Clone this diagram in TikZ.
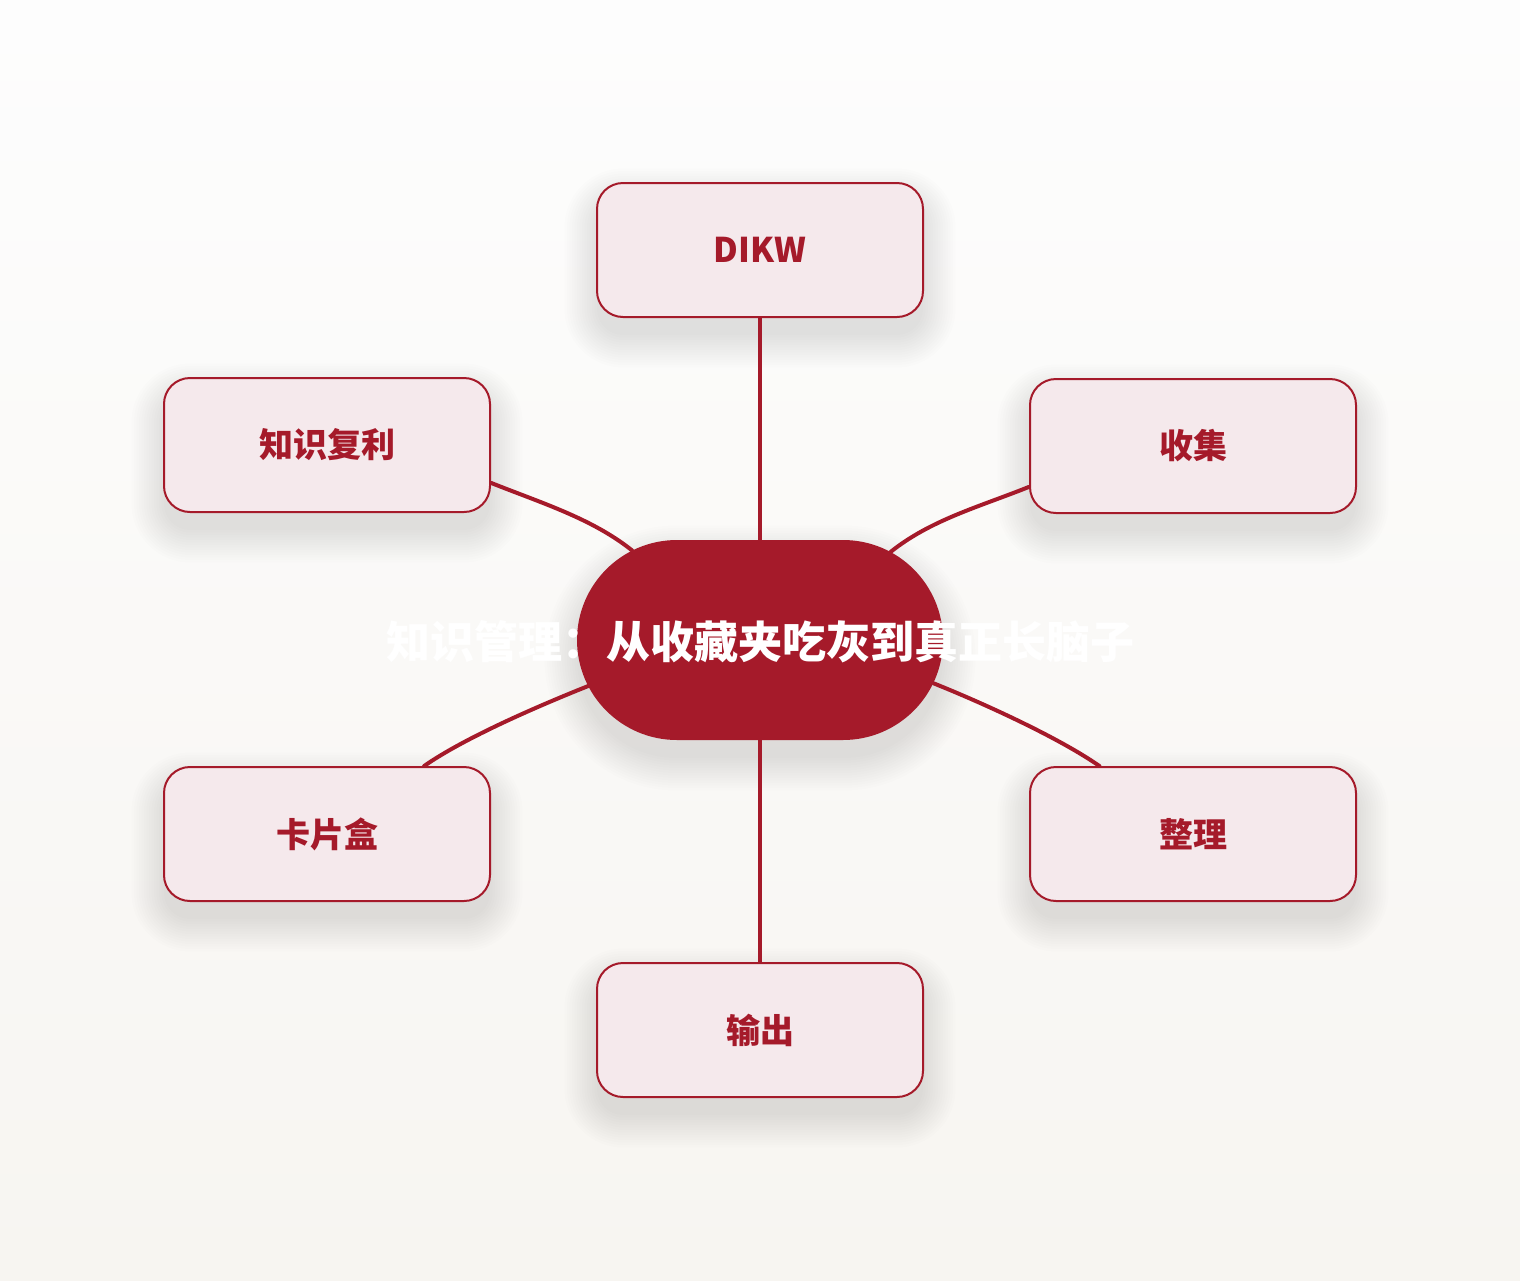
\documentclass[tikz,border=0pt]{standalone}
\usepackage{fontspec}
\usetikzlibrary{shapes.misc}
\newfontfamily\cjk{Noto Sans CJK SC}
\definecolor{kred}{HTML}{A51A2A}
\definecolor{kfill}{HTML}{F5E9EC}
\definecolor{bgtop}{HTML}{FDFDFD}
\definecolor{bgbot}{HTML}{F7F5F1}
\pgfdeclarelayer{bg}
\pgfdeclarelayer{shadow}
\pgfdeclarelayer{edges}
\pgfsetlayers{bg,shadow,edges,main}
\newcommand\softshadow[5]{%
  \foreach \k in {0,...,13}{%
    \pgfmathsetmacro\rr{#5+\k*2.5}%
    \fill[black,opacity=0.0095,rounded corners=\rr pt]
      ({#1-#3/2-\k*2.5},{#2-#4/2-\k*2.5+18}) rectangle ({#1+#3/2+\k*2.5},{#2+#4/2+\k*2.5+18});
  }}
\tikzset{
  leaf/.style={draw=kred, line width=2pt, fill=kfill, rounded corners=26pt,
    minimum width=326pt, minimum height=134pt, inner sep=0pt,
    font=\cjk\bfseries\fontsize{34}{40}\selectfont, text=kred},
  hub/.style={rounded rectangle, fill=kred, minimum width=366pt,
    minimum height=200pt, inner sep=0pt},
  hubtext/.style={font=\cjk\bfseries\fontsize{44}{52}\selectfont, text=white, inner sep=0pt},
  link/.style={draw=kred, line width=4pt, line cap=round},
}
\begin{document}
\begin{tikzpicture}[x=1pt,y=-1pt]
\useasboundingbox (0,0) rectangle (1520,1280);
\begin{pgfonlayer}{bg}
  \shade[top color=bgtop, bottom color=bgbot] (0,0) rectangle (1520,1280);
\end{pgfonlayer}
\node[hub] (hub) at (760,640) {};
\node[hubtext] (title) at (760,642) {知识管理：从收藏夹吃灰到真正长脑子};
\node[leaf] (dikw) at (760,250) {\raisebox{-2pt}{DIKW}};
\node[leaf] (fuli) at (327,445) {\raisebox{-2pt}{知识复利}};
\node[leaf] (shouji) at (1193,446) {\raisebox{-2pt}{收集}};
\node[leaf] (kapian) at (327,834) {\raisebox{-2pt}{卡片盒}};
\node[leaf] (zhengli) at (1193,834) {\raisebox{-2pt}{整理}};
\node[leaf] (shuchu) at (760,1030) {\raisebox{-2pt}{输出}};
\begin{pgfonlayer}{shadow}
  \softshadow{760}{250}{326}{134}{26}
  \softshadow{327}{445}{326}{134}{26}
  \softshadow{1193}{446}{326}{134}{26}
  \softshadow{327}{834}{326}{134}{26}
  \softshadow{1193}{834}{326}{134}{26}
  \softshadow{760}{1030}{326}{134}{26}
  \softshadow{760}{640}{366}{200}{99}
\end{pgfonlayer}
\begin{pgfonlayer}{edges}
  \draw[link] (dikw.south) -- (hub.north);
  \draw[link] (fuli.-13.5) .. controls +(50,20) and +(-40,-32) .. (hub.145.3);
  \draw[link] (shouji.-166.2) .. controls +(-50,20) and +(40,-32) .. (hub.34.7);
  \draw[link] (kapian.35.8) .. controls +(40,-28) and +(-50,20) .. (hub.-165.9);
  \draw[link] (zhengli.144.2) .. controls +(-40,-28) and +(50,20) .. (hub.-14.1);
  \draw[link] (shuchu.north) -- (hub.south);
\end{pgfonlayer}
\end{tikzpicture}
\end{document}
